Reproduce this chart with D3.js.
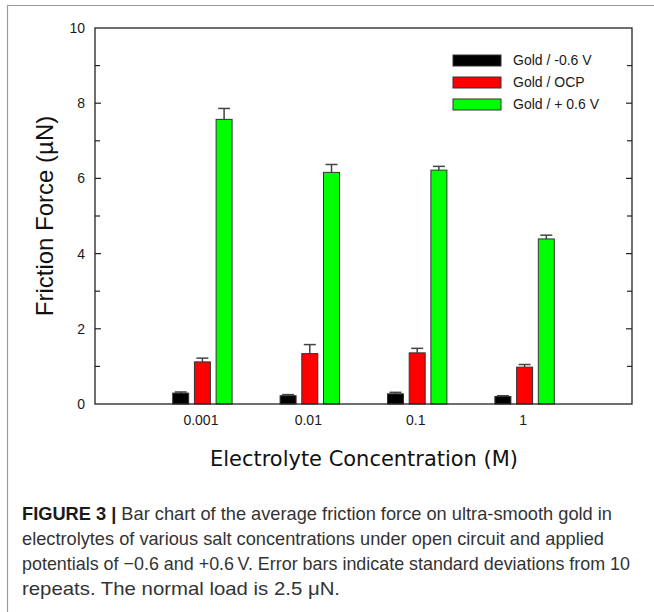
<!DOCTYPE html>
<html><head><meta charset="utf-8">
<script src="https://cdn.jsdelivr.net/npm/d3@7"></script>
<style>body{margin:0;background:#fff}svg{display:block}</style>
</head><body>
<svg id="c" width="654" height="612"></svg>
<script>
const categories = ["0.001", "0.01", "0.1", "1"];
const seriesNames = ["Gold / -0.6 V", "Gold / OCP", "Gold / + 0.6 V"];
const seriesColors = ["#000000", "#ff0000", "#00ff00"];
const valNeg = [0.29, 0.22, 0.27, 0.20];
const errNeg = [0.03, 0.03, 0.04, 0.02];
const valOCP = [1.12, 1.34, 1.36, 0.98];
const errOCP = [0.10, 0.24, 0.12, 0.07];
const valPos = [7.57, 6.16, 6.22, 4.39];
const errPos = [0.29, 0.21, 0.10, 0.10];
const yMajorTicks = [0, 2, 4, 6, 8, 10];
const yMinorTicks = [1, 3, 5, 7, 9];
const captionLines = [
  ["FIGURE 3 |", " Bar chart of the average friction force on ultra-smooth gold in"],
  ["", "electrolytes of various salt concentrations under open circuit and applied"],
  ["", "potentials of \u22120.6 and +0.6\u2009V. Error bars indicate standard deviations from 10"],
  ["", "repeats. The normal load is 2.5 \u03bcN."]
];

const values = [valNeg, valOCP, valPos];
const errors = [errNeg, errOCP, errPos];

const svg = d3.select("#c");
const L = 95, R = 632, T = 28, B = 404;

svg.append("path").attr("d", "M7.5,612 V5.5 H654").attr("fill", "none")
  .attr("stroke", "#9a9a9a").attr("stroke-width", 1.2);

const x = d3.scalePoint().domain(categories).range([L, R]).padding(1);
const xs = d3.scaleBand().domain(seriesNames).range([-29.7, 29.7]).paddingInner(0.263);
const y = d3.scaleLinear().domain([0, 10]).range([B, T]);

seriesNames.forEach((s, si) => {
  const g = svg.append("g");
  categories.forEach((c, ci) => {
    const v = values[si][ci], e = errors[si][ci];
    const bx = x(c) + xs(s);
    const cx = bx + xs.bandwidth() / 2;
    g.append("line").attr("x1", cx).attr("x2", cx).attr("y1", y(v)).attr("y2", y(v + e))
      .attr("stroke", "#444").attr("stroke-width", 1.5);
    g.append("line").attr("x1", cx - 6).attr("x2", cx + 6).attr("y1", y(v + e)).attr("y2", y(v + e))
      .attr("stroke", "#444").attr("stroke-width", 1.5);
    g.append("rect").attr("x", bx).attr("y", y(v)).attr("width", xs.bandwidth())
      .attr("height", y(0) - y(v)).attr("fill", seriesColors[si])
      .attr("stroke", "#333").attr("stroke-width", 1);
  });
});

svg.append("rect").attr("x", L).attr("y", T).attr("width", R - L).attr("height", B - T)
  .attr("fill", "none").attr("stroke", "#222").attr("stroke-width", 1.3);

const tickG = svg.append("g").attr("stroke", "#222").attr("stroke-width", 1.2);
yMajorTicks.concat(yMinorTicks).forEach(t => {
  if (t === 0 || t === 10) return;
  const len = yMajorTicks.includes(t) ? 6 : 5;
  tickG.append("line").attr("x1", L).attr("x2", L + len).attr("y1", y(t)).attr("y2", y(t));
  tickG.append("line").attr("x1", R).attr("x2", R - len).attr("y1", y(t)).attr("y2", y(t));
});

const yAxis = d3.axisLeft(y).tickValues(yMajorTicks).tickSize(0).tickPadding(10).tickFormat(d3.format("d"));
const ya = svg.append("g").attr("transform", `translate(${L},0)`).call(yAxis);
ya.select(".domain").remove();
ya.selectAll("text").attr("font-family", "Liberation Sans, Arial, sans-serif")
  .attr("font-size", 14).attr("fill", "#1a1a1a");

const xAxis = d3.axisBottom(x).tickSize(0).tickPadding(11);
const xa = svg.append("g").attr("transform", `translate(0,${B})`).call(xAxis);
xa.select(".domain").remove();
xa.selectAll("text").attr("font-family", "Liberation Sans, Arial, sans-serif")
  .attr("font-size", 14).attr("fill", "#1a1a1a").attr("dx", -2);

svg.append("text").attr("transform", `translate(53,${(T + B) / 2}) rotate(-90)`)
  .attr("text-anchor", "middle").attr("font-family", "Liberation Sans, Arial, sans-serif")
  .attr("font-size", 24).attr("fill", "#111").text("Friction Force (\u00b5N)");

const xt = svg.append("text").attr("x", 364).attr("y", 466).attr("text-anchor", "middle")
  .attr("font-family", "DejaVu Sans, sans-serif").attr("font-size", 22).attr("fill", "#111")
  .text("Electrolyte Concentration (M)");
xt.attr("textLength", 308).attr("lengthAdjust", "spacingAndGlyphs");

const lg = svg.append("g");
const legY = [55, 77, 99];
seriesNames.forEach((s, i) => {
  lg.append("rect").attr("x", 453).attr("y", legY[i]).attr("width", 48).attr("height", 11)
    .attr("fill", seriesColors[i]).attr("stroke", "#333").attr("stroke-width", 1);
  lg.append("text").attr("x", 513).attr("y", legY[i] + 5.5).attr("dy", "0.35em")
    .attr("font-family", "Liberation Sans, Arial, sans-serif").attr("font-size", 14)
    .attr("fill", "#1a1a1a").text(s);
});

const capBase = [520, 545, 570, 595];
const capWidths = [590, 582, 608, 318];
captionLines.forEach((ln, i) => {
  const t = svg.append("text").attr("x", 22).attr("y", capBase[i])
    .attr("font-family", "Liberation Sans Narrow, Liberation Sans, Arial, sans-serif").attr("font-size", 18.5)
    .attr("fill", "#333");
  if (ln[0]) t.append("tspan").attr("font-weight", "bold").attr("fill", "#1a1a1a").text(ln[0]);
  t.append("tspan").text(ln[1]);
  t.attr("textLength", capWidths[i]).attr("lengthAdjust", "spacingAndGlyphs");
});
</script>
</body></html>
